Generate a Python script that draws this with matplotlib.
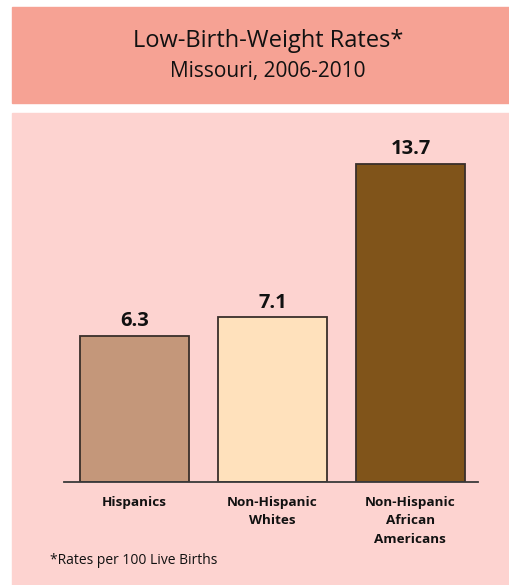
import matplotlib.pyplot as plt
from matplotlib.patches import Rectangle

categories = ["Hispanics", "Non-Hispanic\nWhites", "Non-Hispanic\nAfrican\nAmericans"]
rates = [6.3, 7.1, 13.7]
bar_colors = ["#C4977A", "#FFE1BC", "#80541A"]

plt.rcParams['font.family'] = ['Open Sans', 'DejaVu Sans']

W, H = 510, 585
fig = plt.figure(figsize=(W / 100, H / 100), dpi=100)
fig.patch.set_facecolor("white")

# header band and lower panel (behind the axes)
fig.patches.append(Rectangle((12 / W, 1 - 103 / H), 1, 96 / H,
                             transform=fig.transFigure, color="#F6A294", zorder=-2))
fig.patches.append(Rectangle((12 / W, 0), 1, 1 - 113 / H,
                             transform=fig.transFigure, color="#FDD3D0", zorder=-2))

fig.text(268 / W, 1 - 41 / H, "Low-Birth-Weight Rates*", ha="center", va="center",
         fontsize=17, color="#111111")
fig.text(268 / W, 1 - 72 / H, "Missouri, 2006-2010", ha="center", va="center",
         fontsize=15, color="#111111")

ax = fig.add_axes([64 / W, 103 / H, (478 - 64) / W, 351 / H])
ax.set_zorder(1)
ax.set_facecolor("none")
x = range(len(rates))
bars = ax.bar(x, rates, width=0.79, color=bar_colors, edgecolor="#3A2F2A", linewidth=1.3)
ax.set_xlim(-0.51, 2.49)
ax.set_ylim(0, 15.1)

for b, v in zip(bars, rates):
    ax.annotate(f"{v}", (b.get_x() + b.get_width() / 2, v), xytext=(0, 3),
                textcoords="offset points", ha="center", va="bottom",
                fontsize=14.5, fontweight="bold", color="#111111")

for s in ["top", "left", "right"]:
    ax.spines[s].set_visible(False)
ax.spines["bottom"].set_color("#3A3A3A")
ax.spines["bottom"].set_linewidth(1.3)
ax.set_yticks([])
ax.set_xticks(list(x))
ax.set_xticklabels(categories, fontsize=9.7, fontweight="bold", linespacing=1.55,
                   color="#111111", va="top")
ax.tick_params(axis="x", length=0, pad=10)

fig.text(50 / W, 1 - 560 / H, "*Rates per 100 Live Births", ha="left", va="center",
         fontsize=10, color="#111111")

fig.savefig("out.png", dpi=100)
